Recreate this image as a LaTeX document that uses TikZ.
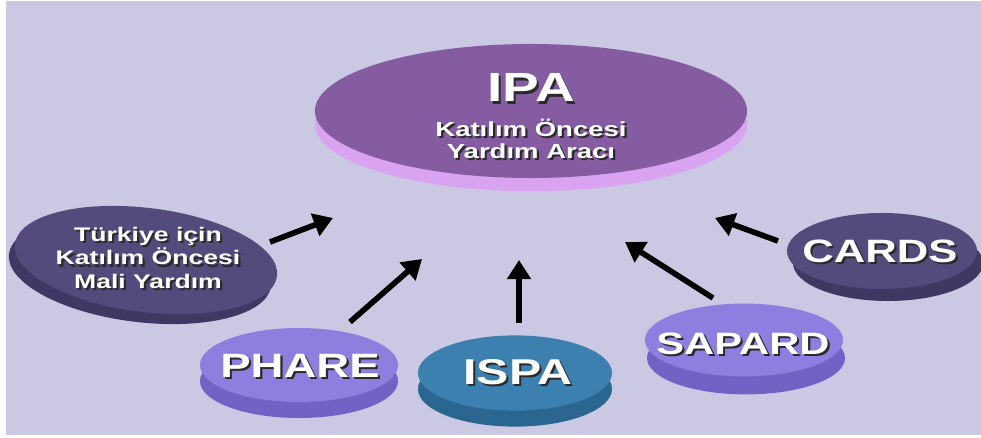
\documentclass[tikz,border=0pt]{standalone}
\usepackage{fontspec}
\setmainfont{Liberation Sans}
\newfontfamily\slidefont[FakeStretch=1.35]{Liberation Sans}
\usetikzlibrary{positioning, arrows.meta, shadows, shapes.geometric}
\definecolor{slidebg}{HTML}{CBC8E3}
\definecolor{ipatop}{HTML}{855BA2}
\definecolor{ipaside}{HTML}{D9A3F2}
\definecolor{darktop}{HTML}{544B7C}
\definecolor{darkside}{HTML}{3F3863}
\definecolor{lilactop}{HTML}{8E7EE0}
\definecolor{lilacside}{HTML}{7262C6}
\definecolor{bluetop}{HTML}{3C80B0}
\definecolor{blueside}{HTML}{2B6690}
\definecolor{txtshadow}{HTML}{2A2A2A}
\newcommand\shtxt[1]{\leavevmode\rlap{\kern1.5pt\raisebox{-1.5pt}{\color{txtshadow}#1}}#1}
\tikzset{
    bigtext/.style 2 args={text=white, inner sep=0pt, align=center, font=\slidefont\bfseries\fontsize{#1}{#2}\selectfont},
    flow/.style={->, line width=4pt, black}
}

\begin{document}
\begin{tikzpicture}[
    x=0.025cm, y=-0.025cm,
    % disk = ust elips + alttaki kalinlik (golge olarak)
    disc/.style n args={4}{
        ellipse, inner sep=0pt, fill=#1,
        drop shadow={shadow xshift=#3, shadow yshift=#4, fill=#2, opacity=1}
    },
    >={Triangle[length=0.48cm, width=0.58cm]}
]

    % 0. ZEMIN
    \fill[white] (0,0) rectangle (981,438);
    \fill[slidebg] (6,1) rectangle (981,435);
    \useasboundingbox (0,0) rectangle (981,438);

    % 1. MERKEZ DISK: IPA
    \node[disc={ipatop}{ipaside}{0pt}{-0.33cm}, minimum width=10.8cm, minimum height=3.35cm] (ipa) at (531,111) {};
    \node[bigtext={29}{30}] (ipa-title) at (531,89) {\shtxt{IPA}};
    \node[bigtext={14.5}{15.5}] (ipa-sub) [below=0.36cm of ipa-title] {\shtxt{Katılım Öncesi}\\\shtxt{Yardım Aracı}};

    % 2. CEVREDEKI DISKLER
    \node[disc={darktop}{darkside}{-0.15cm}{-0.25cm}, minimum width=6.6cm, minimum height=2.6cm, rotate=-7] (tmy) at (146,260) {};
    \node[bigtext={14}{17}] (tmy-t) at (148,259) {\shtxt{Türkiye için}\\\shtxt{Katılım Öncesi}\\\shtxt{Mali Yardım}};

    \node[disc={darktop}{darkside}{0.15cm}{-0.3cm}, minimum width=4.75cm, minimum height=1.9cm] (cards) at (882,251) {};
    \node[bigtext={23}{24}] (cards-t) at (880,252) {\shtxt{CARDS}};

    \node[disc={lilactop}{lilacside}{0.05cm}{-0.45cm}, minimum width=4.95cm, minimum height=1.82cm] (sapard) at (744,340) {};
    \node[bigtext={22}{24}] (sapard-t) at (743,345) {\shtxt{SAPARD}};

    \node[disc={lilactop}{lilacside}{0pt}{-0.4cm}, minimum width=4.95cm, minimum height=1.85cm] (phare) at (299,365) {};
    \node[bigtext={24}{24}] (phare-t) at (300,367) {\shtxt{PHARE}};

    \node[disc={bluetop}{blueside}{0pt}{-0.4cm}, minimum width=4.85cm, minimum height=1.88cm] (ispa) at (515,373) {};
    \node[bigtext={25.5}{24}] (ispa-t) at (518,373) {\shtxt{ISPA}};

    % 3. OKLAR (hepsi IPA'ya dogru)
    \coordinate (tmy-s) at (270,242);    \coordinate (tmy-e) at (333,218);
    \coordinate (phare-s) at (350,322);  \coordinate (phare-e) at (422,259);
    \coordinate (ispa-s) at (519,323);   \coordinate (ispa-e) at (519,260);
    \coordinate (sapard-s) at (713,298); \coordinate (sapard-e) at (625,242);
    \coordinate (cards-s) at (778,241);  \coordinate (cards-e) at (715,218);
    \draw[flow] (tmy-s) -- (tmy-e);
    \draw[flow] (phare-s) -- (phare-e);
    \draw[flow] (ispa-s) -- (ispa-e);
    \draw[flow] (sapard-s) -- (sapard-e);
    \draw[flow] (cards-s) -- (cards-e);

\end{tikzpicture}
\end{document}
